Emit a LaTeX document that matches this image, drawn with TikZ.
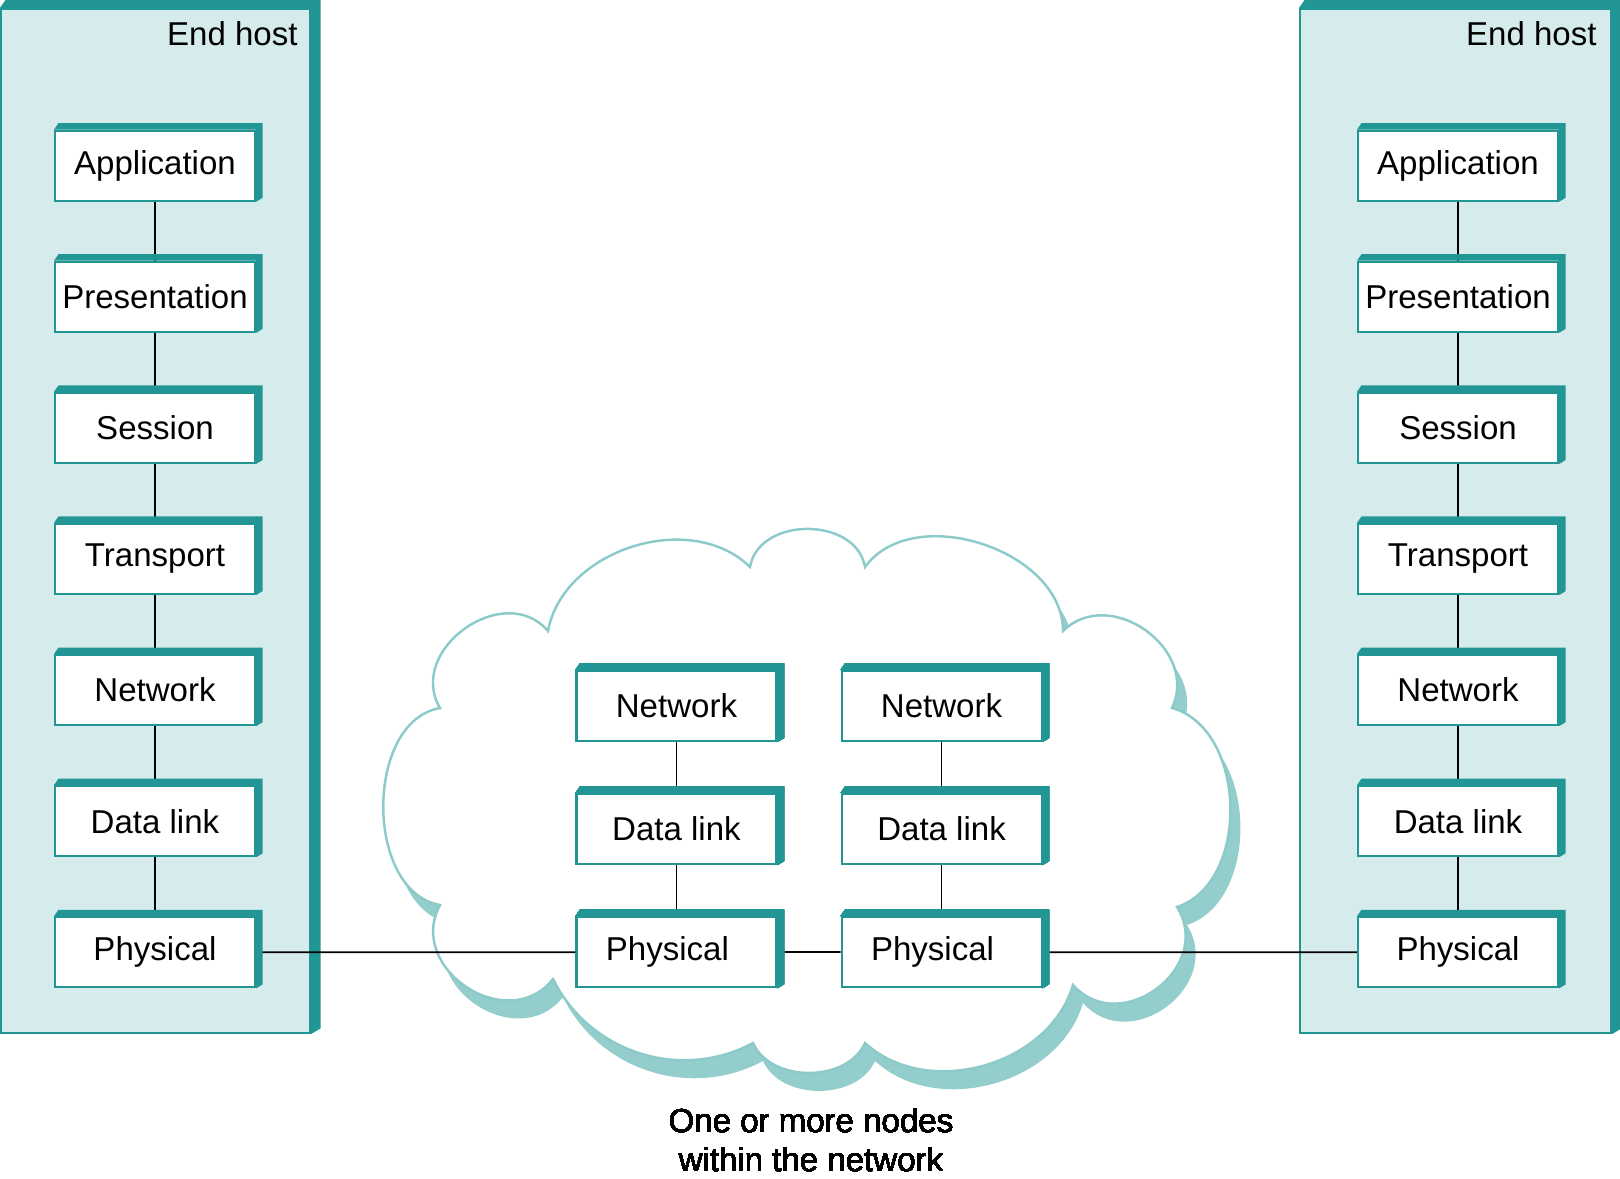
\documentclass[tikz,border=0pt]{standalone}
\usepackage{fontspec}
\setmainfont{Liberation Sans}
\usepackage{tikz}
\usetikzlibrary{matrix, positioning}
\definecolor{rimteal}{RGB}{33,150,148}
\definecolor{hostfill}{RGB}{214,236,236}
\definecolor{cloudline}{RGB}{140,203,201}
\definecolor{cloudshade}{RGB}{147,205,204}
\newcommand{\rim}[2]{\fill[rimteal] (#1.north west) -- ++({#2*0.7},#2) -- ([shift={(#2,#2)}]#1.north east) -- ([shift={(#2,{#2*0.6})}]#1.south east) -- (#1.south east) -- (#1.north east) -- cycle;}
\newcommand{\cloudoutline}{(5.48,-6.31) to[bend left=62] (7.50,-5.67) to[bend left=80, looseness=1.15] (8.65,-5.67) to[bend left=72] (10.63,-6.31) to[bend left=80, looseness=1.25] (11.72,-7.08) to[bend left=73] (11.77,-9.07) to[bend left=85, looseness=1.4] (10.73,-9.85) to[bend left=58] (8.65,-10.43) to[bend left=66] (7.53,-10.43) to[bend left=46] (5.53,-9.79) to[bend left=85, looseness=1.37] (4.40,-9.05) to[bend left=80] (4.40,-7.08) to[bend left=85, looseness=1.3] (5.48,-6.31) -- cycle}

\begin{document}
\begin{tikzpicture}[font=\fontsize{9.4}{11.1}\selectfont,
    osi/.style={draw=rimteal, line width=0.6pt, fill=white, minimum width=2cm, minimum height=0.7cm, inner xsep=0pt},
    hostbox/.style={draw=rimteal, line width=0.6pt, fill=hostfill},
    wire/.style={line width=0.5pt},
    netcloud/.style={draw=cloudline, line width=0.7pt, fill=white}]
      \useasboundingbox (0,0) rectangle (16.2,-11.78);
      \node[hostbox, minimum width=3.09cm, minimum height=10.24cm] (hostL) at (1.555,-5.21) {};
      \node[hostbox, minimum width=3.11cm, minimum height=10.24cm] (hostR) at (14.555,-5.21) {};
      \rim{hostL}{0.095}
      \rim{hostR}{0.095}
      \node[anchor=east] (nameL) at (3.10,-0.34) {End host};
      \node[anchor=east] (nameR) at (16.09,-0.34) {End host};
      \fill[cloudshade, shift={(0.1,-0.18)}] \cloudoutline;
      \path[netcloud] \cloudoutline;
      \matrix (L) [matrix of nodes, nodes={osi}, row sep=0.59cm] at (1.55,-5.59) {
        Application \\ Presentation \\ Session \\ Transport \\ Network \\ Data link \\ Physical \\
      };
      \matrix (R) [matrix of nodes, nodes={osi}, row sep=0.59cm] at (14.58,-5.59) {
        Application \\ Presentation \\ Session \\ Transport \\ Network \\ Data link \\ Physical \\
      };
      \matrix (M) [matrix of nodes, nodes={osi}, row sep=0.51cm, column sep=0.63cm] at (8.09,-8.29) {
        Network & Network \\ Data link & Data link \\ Physical\hspace{0.18cm} & Physical\hspace{0.18cm} \\
      };
      \foreach \s in {L,R}
        \foreach \i [count=\j from 2] in {1,...,6}
          \draw[wire] (\s-\i-1) -- (\s-\j-1);
      \foreach \c in {1,2}
        \foreach \i [count=\j from 2] in {1,2}
          \draw[wire] (M-\i-\c) -- (M-\j-\c);
      \draw[wire] (L-7-1) -- (M-3-1) -- (M-3-2) -- (R-7-1);
      \foreach \s in {L,R}
        \foreach \i in {1,...,7}
          \rim{\s-\i-1}{0.065}
      \foreach \i in {1,2,3}
        \foreach \c in {1,2}
          \rim{M-\i-\c}{0.065}
      \node[align=center] (note) at (8.11,-11.40) {One or more nodes\\within the network};
\end{tikzpicture}
\end{document}
